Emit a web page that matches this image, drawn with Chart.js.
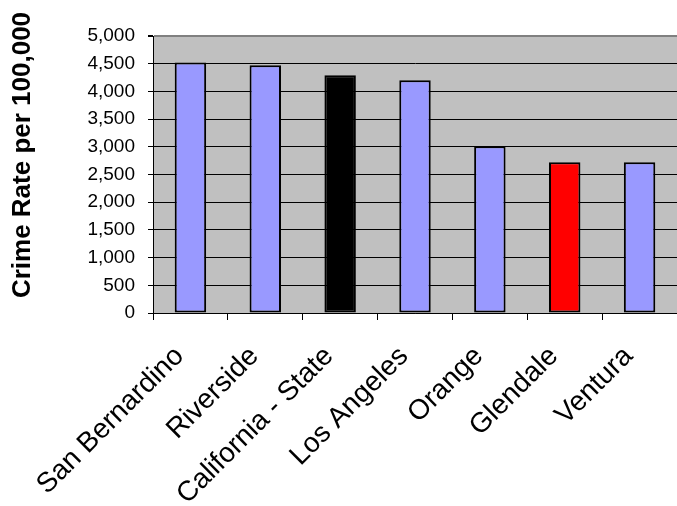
<!DOCTYPE html>
<html>
<head>
<meta charset="utf-8">
<script src="https://cdn.jsdelivr.net/npm/chart.js@4.4.1/dist/chart.umd.min.js"></script>
<style>
  html, body { margin: 0; padding: 0; background: #fff; }
  #wrap { width: 677px; height: 506px; }
</style>
</head>
<body>
<div id="wrap"><canvas id="crimeChart"></canvas></div>
<script>
// --- data ---
const categories = ['San Bernardino', 'Riverside', 'California - State', 'Los Angeles', 'Orange', 'Glendale', 'Ventura'];
const crimeRates = [4520, 4470, 4290, 4200, 3010, 2720, 2720];
const barColors  = ['#9999ff', '#9999ff', '#000000', '#9999ff', '#9999ff', '#ff0000', '#9999ff'];
const yTickValues = [0, 500, 1000, 1500, 2000, 2500, 3000, 3500, 4000, 4500, 5000];
const yTitle = 'Crime Rate per 100,000';

const FONT = "'Liberation Sans', Arial, sans-serif";

// gray plot background like the old Excel charts
const plotBackground = {
  id: 'plotBackground',
  beforeDraw(chart) {
    const { ctx, chartArea: a } = chart;
    ctx.save();
    ctx.fillStyle = '#c0c0c0';
    ctx.fillRect(a.left, a.top, a.right - a.left, a.bottom - a.top);
    ctx.restore();
  },
};

// rotated axis title, placed by hand
const sideTitle = {
  id: 'sideTitle',
  afterDraw(chart) {
    const ctx = chart.ctx;
    ctx.save();
    ctx.translate(23, 155);
    ctx.rotate(-Math.PI / 2);
    ctx.font = 'bold 26px ' + FONT;
    ctx.fillStyle = '#000';
    ctx.textAlign = 'center';
    ctx.textBaseline = 'middle';
    ctx.fillText(yTitle, 0, 0);
    ctx.restore();
  },
};

new Chart(document.getElementById('crimeChart'), {
  type: 'bar',
  data: {
    labels: categories,
    datasets: [{
      data: crimeRates,
      backgroundColor: barColors,
      borderColor: '#000',
      borderWidth: 2,
      borderSkipped: false,
      categoryPercentage: 1,
      barPercentage: 0.42,
    }],
  },
  options: {
    responsive: true,
    maintainAspectRatio: false,
    animation: false,
    layout: { padding: { top: 36, right: 0, bottom: 0, left: 0 } },
    plugins: {
      legend: { display: false },
      tooltip: { enabled: false },
    },
    scales: {
      x: {
        offset: true,
        grid: { display: true, drawOnChartArea: false, offset: true, tickLength: 7, tickColor: '#000' },
        border: { color: '#000', width: 1 },
        ticks: {
          color: '#000',
          font: { family: FONT, size: 28 },
          minRotation: 45,
          maxRotation: 45,
          padding: 20,
          labelOffset: -11,
          autoSkip: false,
        },
        afterFit: s => {
          s.height = 193;
          s.paddingLeft = 0;
          s.paddingRight = 0;
        },
      },
      y: {
        min: 0,
        max: 5000,
        afterBuildTicks: s => { s.ticks = yTickValues.map(v => ({ value: v })); },
        grid: {
          color: c => (c.tick && c.tick.value === 5000 ? '#808080' : '#000'),
          lineWidth: c => (c.tick && c.tick.value === 5000 ? 2 : 1),
          tickLength: 5,
          tickColor: '#000',
        },
        border: { color: '#000', width: 1 },
        ticks: {
          color: '#000',
          font: { family: FONT, size: 19 },
          padding: 13,
          callback: v => v.toLocaleString('en-US'),
        },
        afterFit: s => { s.width = 153; },
      },
    },
  },
  plugins: [plotBackground, sideTitle],
});
</script>
</body>
</html>
